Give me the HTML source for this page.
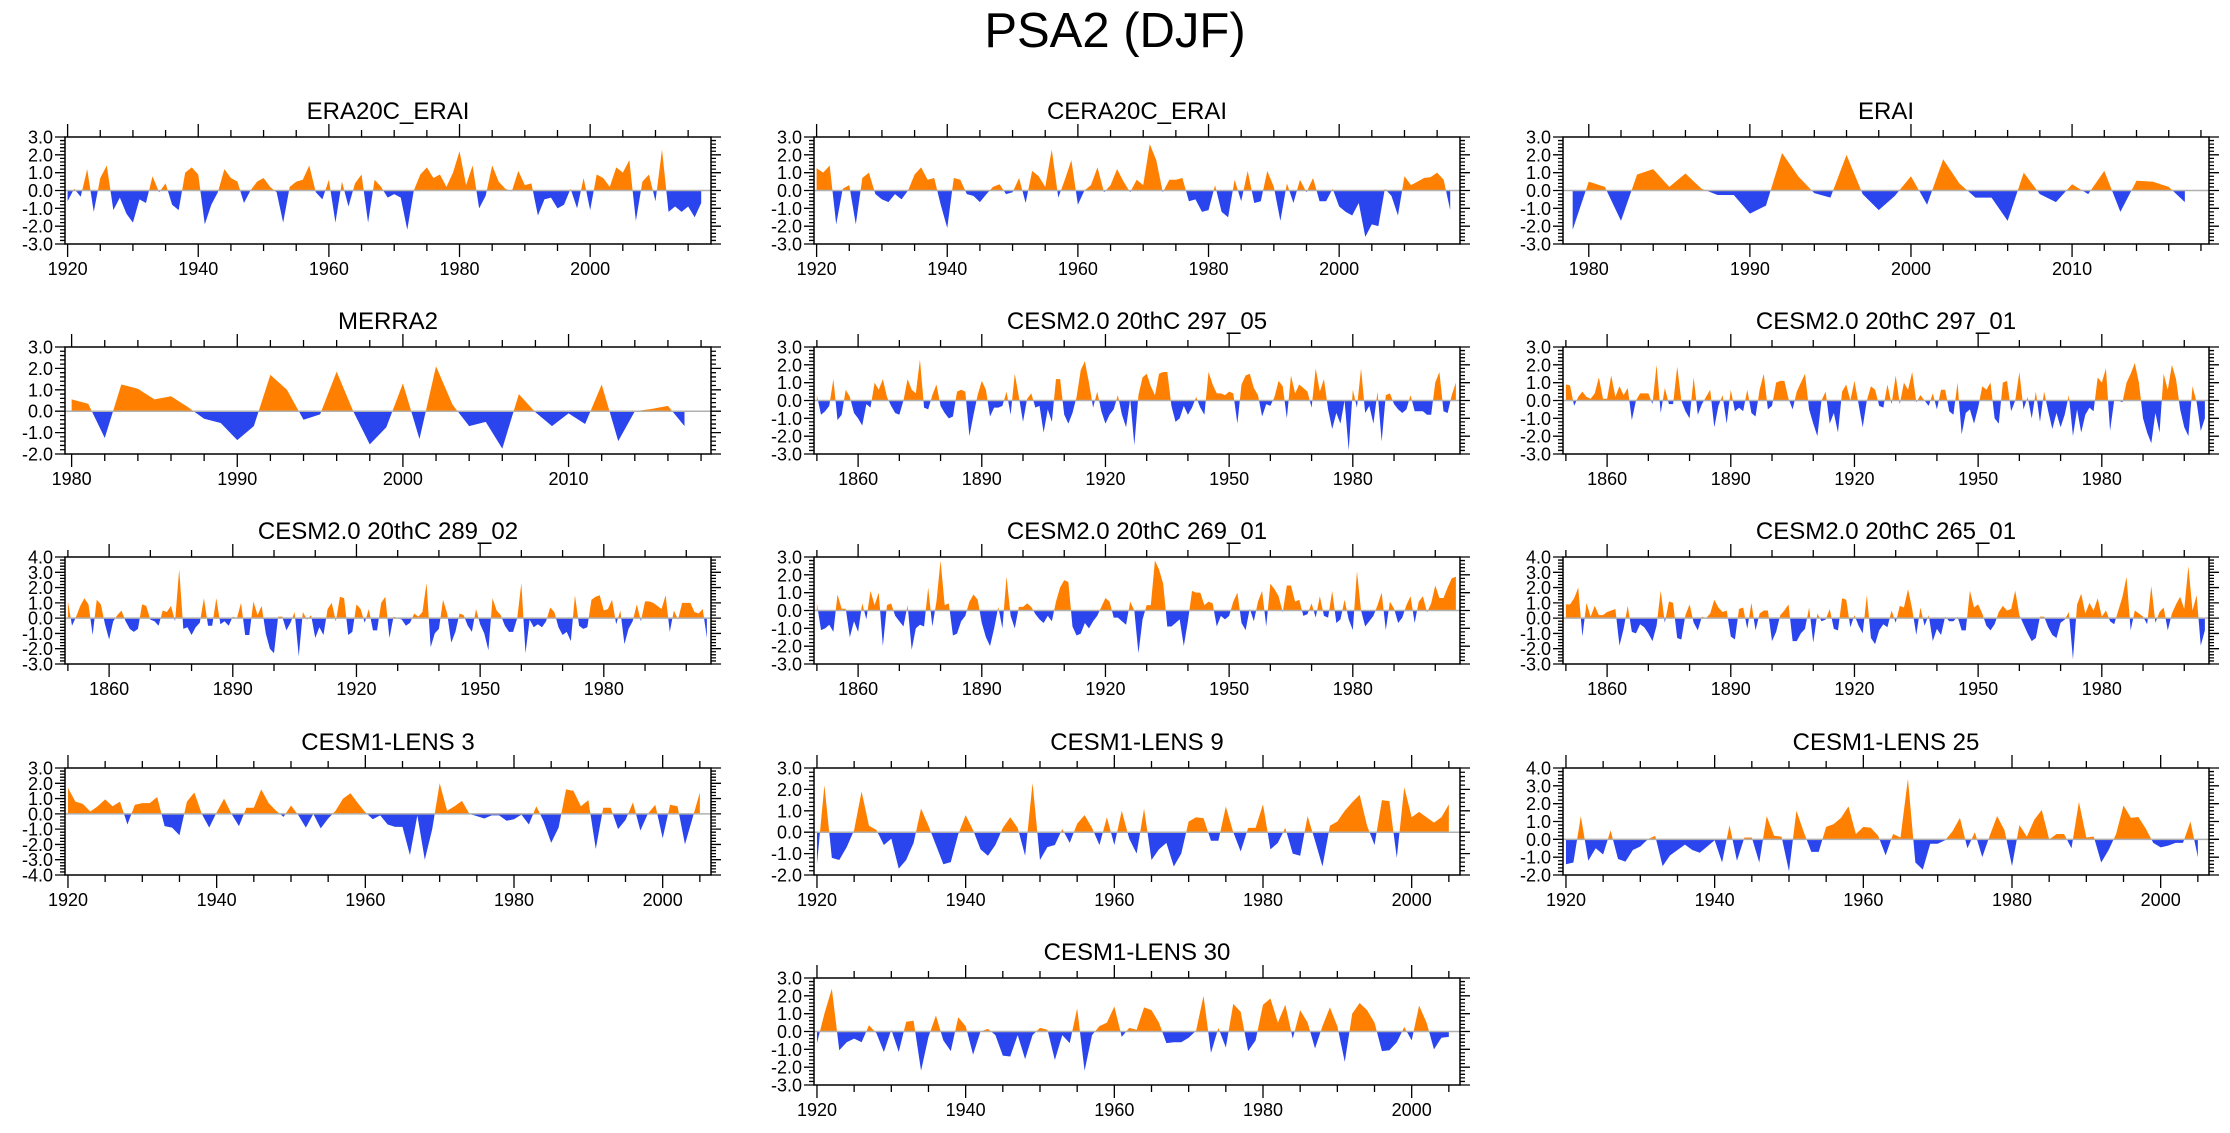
<!DOCTYPE html>
<html><head><meta charset="utf-8"><title>PSA2 (DJF)</title>
<style>
html,body{margin:0;padding:0;background:#fff;}
svg{display:block;font-family:"Liberation Sans",Arial,sans-serif;}
</style></head>
<body>
<svg id="fig" width="2230" height="1133" viewBox="0 0 2230 1133" xmlns="http://www.w3.org/2000/svg">
<rect x="0" y="0" width="2230" height="1133" fill="#fff"/>
<text x="1115" y="47" text-anchor="middle" font-size="49" fill="#000">PSA2 (DJF)</text>
</svg>
<script>
const era20c = [
-0.6,0.1,-0.35,1.2,-1.2,0.7,1.4,-1.1,-0.4,-1.3,
-1.8,-0.5,-0.7,0.8,-0.1,0.4,-0.8,-1.1,1.0,1.3,
0.9,-1.9,-0.8,-0.1,1.2,0.7,0.5,-0.7,0.0,0.5,
0.7,0.2,-0.1,-1.8,0.2,0.5,0.6,1.4,-0.1,-0.5,
0.6,-1.8,0.5,-0.9,0.4,0.9,-1.8,0.6,0.2,-0.4,
-0.2,-0.4,-2.2,0.0,0.9,1.3,0.7,0.9,0.2,1.0,
2.2,0.3,1.4,-1.0,-0.3,1.4,0.5,0.1,-0.05,1.1,
0.3,0.4,-1.4,-0.5,-0.4,-1.0,-0.8,0.1,-1.0,0.7,
-1.1,0.9,0.7,0.2,1.3,1.0,1.7,-1.7,0.5,0.9,
-0.6,2.3,-1.2,-0.9,-1.2,-0.9,-1.5,-0.7];
const cera20c = [
1.25,1.0,1.4,-1.9,0.1,0.3,-1.9,0.7,1.0,-0.2,
-0.5,-0.65,-0.2,-0.5,0.0,0.9,1.3,0.6,0.7,-0.8,
-2.1,0.7,0.6,-0.2,-0.3,-0.65,-0.2,0.2,0.35,-0.2,
-0.1,0.7,-0.7,1.1,0.8,0.2,2.3,-0.4,0.6,1.7,
-0.8,0.0,0.3,1.3,-0.1,0.3,1.2,0.5,-0.1,0.6,
0.3,2.6,1.7,-0.1,0.6,0.6,0.7,-0.6,-0.5,-1.2,
-1.1,0.3,-1.2,-1.5,0.6,-0.6,1.1,-0.7,-0.6,1.1,
0.2,-1.7,0.4,-0.7,0.6,-0.1,0.7,-0.6,-0.6,0.1,
-0.9,-1.2,-1.4,-0.7,-2.6,-1.9,-2.0,0.1,-0.3,-1.4,
0.8,0.3,0.5,0.7,0.75,1.0,0.6,-1.1];
const erai = [
-2.2,0.5,0.2,-1.7,0.9,1.2,0.2,0.95,0.1,-0.25,-0.25,
-1.3,-0.85,2.1,0.8,-0.15,-0.4,2.0,-0.2,-1.1,-0.3,
0.8,-0.8,1.75,0.4,-0.4,-0.4,-1.7,1.0,-0.2,-0.65,
0.35,-0.2,1.1,-1.2,0.55,0.5,0.2,-0.65];
const merra2 = [
0.55,0.35,-1.25,1.25,1.05,0.55,0.7,0.2,-0.35,-0.55,
-1.35,-0.7,1.7,1.0,-0.4,-0.15,1.85,0.0,-1.55,-0.75,
1.3,-1.3,2.1,0.3,-0.7,-0.5,-1.75,0.8,-0.05,-0.7,
-0.1,-0.6,1.25,-1.4,0.0,0.1,0.25,-0.7];
const c297_05 = [
0.3,-0.8,-0.6,-0.3,1.2,-1.1,-0.8,0.6,0.2,-0.7,
-1.0,-1.4,-0.2,-0.4,1.0,0.6,1.2,0.2,-0.3,-0.7,
-0.8,0.0,1.2,0.6,0.4,2.3,-0.4,-0.5,0.3,0.9,
-0.3,-0.7,-1.0,-0.9,0.5,0.6,0.5,-2.0,-0.8,0.3,
1.1,0.6,-0.9,-0.4,-0.4,-0.3,0.5,-0.8,1.5,0.2,
-1.2,0.1,0.4,-0.4,-0.3,-1.8,-0.5,-1.2,1.2,1.2,
-0.8,-1.3,-0.7,0.2,1.7,2.2,1.0,-0.4,0.5,-0.6,
-1.3,-0.8,-0.5,0.3,-0.8,-1.5,0.1,-2.5,0.3,1.3,
1.5,0.8,0.3,1.5,1.6,1.6,-0.3,-1.2,-1.0,-0.3,
-0.8,-0.4,0.2,-0.4,-0.8,1.6,0.9,0.4,0.4,0.3,
0.5,0.4,-1.3,0.9,1.4,1.5,0.7,0.3,-0.9,-0.2,
-0.3,0.2,1.1,0.8,-1.0,1.4,0.4,0.9,0.7,0.5,
-0.4,1.8,0.5,1.2,-0.5,-1.6,-0.7,-1.3,0.0,-2.8,
0.6,-0.4,1.8,-0.7,-0.3,-1.3,0.5,-2.3,0.3,0.4,
-0.2,-0.5,-0.7,-0.5,0.3,-0.6,-0.6,-0.6,-0.8,-0.8,
1.0,1.6,-0.6,-0.7,0.3,1.0];
const c297_01 = [
0.9,0.85,-0.3,0.2,0.5,0.2,0.1,0.4,1.3,0.1,
0.1,1.4,0.2,0.8,0.3,0.7,-1.1,0.0,0.4,0.4,
0.4,-0.2,2.0,-0.7,0.7,-0.2,-0.2,1.9,0.0,-0.6,
-1.0,1.3,-0.8,-0.2,0.2,0.6,-1.5,-0.3,0.3,-1.3,
0.6,-0.6,-0.4,-0.6,0.6,-0.7,-0.9,0.6,1.5,-0.5,
-0.3,1.0,1.1,1.1,0.1,-0.5,0.5,1.0,1.5,-0.5,
-1.3,-2.0,0.0,0.5,-1.3,-0.7,-1.8,0.5,0.9,0.0,
1.1,-0.2,-1.5,0.0,0.8,0.6,-0.3,-0.4,0.9,-0.2,
1.4,-0.2,1.0,0.6,1.6,-0.1,0.3,0.0,-0.3,0.4,
-0.5,0.6,0.6,-0.6,-0.8,1.0,-1.9,-0.7,-0.5,-1.3,
-0.4,0.8,0.6,1.0,-1.0,-1.3,1.0,1.1,-0.6,0.0,
1.6,-0.5,0.2,-1.0,0.5,-1.2,0.5,-0.6,-1.6,-0.7,
-1.5,-0.8,0.3,-2.0,-0.5,-1.8,-0.8,-0.4,-0.6,1.3,
1.0,1.8,-1.7,0.0,0.0,-0.1,1.0,1.5,2.1,1.0,
-1.0,-1.8,-2.4,-0.7,-1.8,1.5,0.6,2.0,1.2,-0.5,
-1.5,-2.0,0.8,-0.1,-1.7,-1.0];
const c289_02 = [
1.1,-0.5,0.1,0.8,1.3,0.9,-1.1,1.2,0.9,-0.4,
-1.4,-0.2,0.2,0.5,-0.2,-0.7,-0.9,-0.7,0.9,0.8,
-0.1,-0.2,-0.5,0.5,0.4,0.8,-0.2,3.2,-0.7,-0.6,
-1.1,-0.6,-0.3,1.3,-0.5,-0.5,1.3,-0.4,-0.2,-0.5,
0.1,0.0,1.0,-1.1,-1.1,1.1,0.2,0.8,-1.0,-2.0,
-2.3,0.1,0.1,-0.8,-0.3,0.4,-2.5,0.4,-0.1,0.2,
-1.3,-0.6,-1.1,0.6,1.0,-0.2,1.4,1.3,-1.1,-0.9,
0.9,0.6,-0.3,0.6,-0.8,-0.8,1.0,1.4,-1.3,0.1,
0.0,-0.1,-0.5,-0.3,0.3,0.1,0.4,2.3,-1.9,-1.0,
-0.7,1.2,0.3,-1.6,-0.9,0.3,0.2,-0.5,-0.9,0.6,
-0.4,-1.0,-2.1,1.3,0.5,0.2,-0.5,-0.9,-0.9,0.0,
2.3,-2.3,-0.1,-0.6,-0.4,-0.6,-0.2,0.7,0.4,-0.6,
-1.1,-0.9,-1.5,1.5,-0.5,-0.7,-0.6,1.2,1.4,1.5,
0.5,0.6,1.2,-0.4,0.5,-1.7,-0.7,-0.2,0.9,-0.2,
1.1,1.1,1.0,0.8,0.6,1.5,-0.9,0.5,-0.1,1.0,
1.0,1.0,0.4,0.3,0.6,-1.3];
const c269_01 = [
0.4,-1.1,-1.0,-0.8,-1.2,0.9,0.1,0.1,-1.5,-0.6,
-1.2,0.4,-0.5,1.1,0.3,1.0,-2.0,0.3,0.4,-0.3,
-0.6,-0.9,0.3,-2.2,-1.0,-0.8,-0.9,1.3,-0.9,0.5,
2.8,0.3,0.4,-1.4,-1.3,-0.6,-0.3,0.5,0.9,0.6,
-0.7,-1.5,-2.0,-1.0,0.2,-1.0,1.9,-0.3,-1.0,0.2,
0.2,0.4,0.2,-0.2,-0.5,-0.7,-0.3,-0.6,0.5,1.3,
1.7,1.6,-0.9,-1.4,-1.3,-0.7,-1.0,-0.6,-0.3,0.2,
0.7,0.5,-0.4,-0.4,-0.6,-0.8,0.5,0.0,-2.4,-0.5,
0.3,0.3,2.8,2.3,1.5,-0.9,-0.9,-0.7,-0.5,-2.0,
-0.6,1.1,1.0,1.0,0.3,0.5,0.4,-0.9,-0.3,-0.5,
-0.3,0.5,1.0,-0.7,-1.1,0.1,-0.6,0.5,1.1,-0.9,
1.5,1.2,0.8,-0.1,1.4,1.4,0.5,0.6,-0.3,-0.2,
0.4,-0.4,0.8,-0.3,-0.4,1.1,-0.7,-0.5,0.6,-0.5,
-1.1,2.2,0.0,-0.9,-0.6,-0.3,0.3,1.0,-1.1,0.5,
0.1,-0.7,-0.4,0.3,0.8,-0.7,0.5,0.8,-0.1,0.4,
1.4,0.7,0.7,1.3,1.8,1.9];
const c265_01 = [
0.9,0.9,1.3,2.0,-1.2,1.0,0.1,0.8,0.2,0.2,
0.4,0.5,0.6,-1.8,-0.7,0.8,-0.9,-1.0,-0.4,-0.6,
-1.0,-1.5,-0.5,1.8,-0.3,1.1,1.0,-1.3,-1.4,0.2,
0.9,-0.3,-0.8,0.1,0.0,0.3,1.2,0.7,0.4,0.5,
-1.2,-1.4,0.6,0.7,-0.7,1.0,-0.8,0.3,0.5,0.5,
-1.5,-0.9,0.2,0.5,0.9,-1.5,-1.5,-1.0,-0.7,0.7,
-1.6,0.3,-0.2,-0.1,0.6,-0.7,-0.8,1.3,1.2,-0.6,
0.2,-0.5,-1.0,1.5,-1.3,-1.7,-0.8,-0.4,-0.6,0.5,
-0.3,0.8,0.7,1.9,0.6,-1.1,0.7,-0.5,0.2,-1.5,
-0.7,-1.1,0.1,-0.2,-0.2,0.1,-0.8,-0.8,1.8,0.7,
0.9,0.3,-0.5,-0.8,-0.4,0.4,0.8,0.5,0.6,1.8,
0.2,-0.4,-1.0,-1.5,-1.3,0.1,0.1,-0.6,-1.1,-1.3,
-0.3,-0.1,0.4,-2.7,0.9,1.6,0.3,1.0,0.5,1.3,
0.1,0.5,-0.2,-0.4,0.5,1.4,2.7,-0.8,0.5,0.3,
0.1,-0.4,2.1,-0.3,0.4,0.7,-0.8,0.3,0.9,1.4,
0.6,3.4,0.5,1.5,-1.8,-0.8];
const lens3 = [
1.7,0.8,0.65,0.15,0.5,0.95,0.5,0.8,-0.7,0.6,
0.7,0.7,1.1,-0.8,-0.9,-1.4,0.8,1.4,0.0,-0.9,
0.1,1.0,0.0,-0.8,0.4,0.4,1.6,0.7,0.2,-0.2,
0.55,-0.1,-0.9,0.0,-0.95,-0.3,0.2,1.0,1.35,0.7,
0.1,-0.35,-0.1,-0.7,-0.85,-0.85,-2.7,-0.1,-3.0,-1.0,
2.0,0.2,0.5,0.85,0.0,-0.15,-0.3,-0.1,-0.1,-0.45,
-0.35,-0.05,-0.7,0.5,-0.5,-1.9,-0.9,1.6,1.5,0.5,
0.9,-2.3,0.4,0.4,-1.0,-0.4,0.75,-1.1,0.0,0.6,
-1.6,0.6,0.5,-2.0,-0.3,1.4];
const lens9 = [
-1.5,2.2,-1.2,-1.3,-0.7,0.1,1.9,0.3,0.1,-0.6,
-0.3,-1.7,-1.3,-0.5,1.1,0.3,-0.6,-1.5,-1.4,-0.1,
0.8,0.1,-0.8,-1.1,-0.6,0.2,0.7,0.2,-1.1,2.3,
-1.3,-0.7,-0.6,0.15,-0.5,0.4,0.8,0.2,-0.6,0.7,
-0.6,1.0,-0.3,-1.0,1.1,-1.3,-0.8,-0.5,-1.6,-1.0,
0.5,0.7,0.65,-0.4,-0.4,1.2,0.0,-0.9,0.2,0.2,
1.3,-0.8,-0.5,0.2,-1.0,-1.1,0.75,-0.4,-1.6,0.3,
0.5,1.0,1.4,1.75,0.3,-0.6,1.5,1.45,-1.2,2.1,
0.7,0.95,0.7,0.45,0.7,1.3];
const lens25 = [
-1.4,-1.3,1.3,-1.2,-0.5,-0.85,0.5,-1.1,-1.25,-0.6,
-0.4,0.0,0.2,-1.5,-0.9,-0.6,-0.3,-0.6,-0.75,-0.4,
-0.05,-1.3,0.8,-1.2,0.1,0.1,-1.3,1.3,0.2,0.15,
-1.8,1.6,0.4,-0.7,-0.7,0.7,0.85,1.2,1.85,0.3,
0.7,0.65,0.2,-0.9,0.3,0.1,3.4,-1.3,-1.7,-0.25,
-0.25,-0.05,0.45,1.2,-0.5,0.4,-1.0,0.2,1.3,0.5,
-1.5,0.8,0.15,1.1,1.65,0.0,0.3,0.3,-0.5,2.1,
0.1,0.15,-1.3,-0.6,0.3,1.9,1.2,1.25,0.6,-0.2,
-0.45,-0.35,-0.2,-0.2,1.0,-1.0];
const lens30 = [
-0.65,1.0,2.4,-1.05,-0.6,-0.4,-0.6,0.35,-0.1,-1.15,
0.1,-1.15,0.55,0.6,-2.2,-0.3,0.9,-0.5,-1.1,0.8,
0.3,-1.3,0.0,0.15,-0.2,-1.35,-1.4,-0.2,-1.55,-0.2,
0.2,0.1,-1.6,-0.2,-0.65,1.3,-2.2,-0.2,0.3,0.5,
1.4,-0.3,0.2,0.1,1.35,1.2,0.5,-0.65,-0.6,-0.6,
-0.35,0.05,2.0,-1.2,0.2,-0.9,1.55,1.1,-1.1,-0.5,
1.5,1.85,0.5,1.5,-0.4,1.2,0.5,-0.95,0.3,1.35,
0.3,-1.7,1.0,1.6,1.2,0.5,-1.1,-1.05,-0.6,0.25,
-0.5,1.45,0.5,-1.0,-0.35,-0.3];

const panelTitles = ["ERA20C_ERAI","CERA20C_ERAI","ERAI","MERRA2","CESM2.0 20thC 297_05","CESM2.0 20thC 297_01","CESM2.0 20thC 289_02","CESM2.0 20thC 269_01","CESM2.0 20thC 265_01","CESM1-LENS 3","CESM1-LENS 9","CESM1-LENS 25","CESM1-LENS 30"];
const panelSeries = [era20c,cera20c,erai,merra2,c297_05,c297_01,c289_02,c269_01,c265_01,lens3,lens9,lens25,lens30];
const startYears = [1920,1920,1979,1980,1850,1850,1850,1850,1850,1920,1920,1920,1920];
const yMins = [-3,-3,-3,-2,-3,-3,-3,-3,-3,-4,-2,-2,-3];
const yMaxs = [3,3,3,3,3,3,4,3,4,3,3,4,3];

// layout (not data)
const colX=[65,814,1563], rowY=[137,347,557,768,978], PW=646, PH=107;
const cells=[[0,0],[1,0],[2,0],[0,1],[1,1],[2,1],[0,2],[1,2],[2,2],[0,3],[1,3],[2,3],[1,4]];
const xRanges={1920:[1919.6,2018.5],1979:[1978.4,2018.5],1980:[1979.6,2018.6],1850:[1849.3,2006.0]};
const ORANGE="#ff8000", BLUE="#2b45ee";
const NS="http://www.w3.org/2000/svg";
const svg=document.getElementById('fig');
function mk(tag,attrs,parent){const e=document.createElementNS(NS,tag);for(const k in attrs)e.setAttribute(k,attrs[k]);(parent||svg).appendChild(e);return e;}

panelSeries.forEach((data,p)=>{
  const [c,r]=cells[p];
  const L=colX[c],T=rowY[r],R=L+PW,B=T+PH;
  const s0=startYears[p];
  let xr;
  if(p>=9) xr=[1919.6,2006.5]; else xr=xRanges[s0];
  const ymin=yMins[p],ymax=yMaxs[p];
  const sx=v=>L+(v-xr[0])/(xr[1]-xr[0])*PW;
  const sy=v=>B-(v-ymin)/(ymax-ymin)*PH;
  let major,minor;
  if(s0===1850){major=30;minor=10;}
  else if(s0>=1979){major=10;minor=2;}
  else {major=20;minor=5;}
  const g=mk('g',{});
  
  
  const t=mk('text',{x:(L+R)/2,y:T-18,'text-anchor':'middle','font-size':24,fill:'#000'},g);
  t.textContent=panelTitles[p];
  
  
  const idA='ca'+p, idB='cb'+p;
  const cpA=mk('clipPath',{id:idA},g); mk('rect',{x:L,y:T,width:PW,height:sy(0)-T},cpA);
  const cpB=mk('clipPath',{id:idB},g); mk('rect',{x:L,y:sy(0),width:PW,height:B-sy(0)},cpB);
  let d='M'+sx(s0).toFixed(2)+','+sy(0).toFixed(2);
  data.forEach((v,i)=>{d+=' L'+sx(s0+i).toFixed(2)+','+sy(v).toFixed(2);});
  d+=' L'+sx(s0+data.length-1).toFixed(2)+','+sy(0).toFixed(2)+' Z';
  const pos=mk('path',{d:d,fill:ORANGE,'clip-path':'url(#'+idA+')'},g);
  
  
  const neg=mk('path',{d:d,fill:BLUE,'clip-path':'url(#'+idB+')'},g);
  
  
  const zl=mk('line',{x1:L,x2:R,y1:sy(0),y2:sy(0),stroke:'#b0b0b0','stroke-width':1.5},g);
  
  
  const box=mk('rect',{x:L,y:T,width:PW,height:PH,fill:'none',stroke:'#000','stroke-width':1.5},g);
  
  
  let tk='';
  for(let yr=Math.ceil(xr[0]);yr<=xr[1];yr++){
    if(yr%minor!==0)continue;
    const x=sx(yr).toFixed(2);
    const isMaj=(s0===1850)?((yr-1860)%30===0):(yr%major===0);
    const len=isMaj?13:7;
    tk+='M'+x+','+T+' V'+(T-len)+' M'+x+','+B+' V'+(B+len)+' ';
    if(isMaj){
      const lb=mk('text',{x:x,y:B+31,'text-anchor':'middle','font-size':18,fill:'#000'},g);
      lb.textContent=yr;
      
      
    }
  }
  for(let k=Math.round(ymin*5);k<=Math.round(ymax*5);k++){
    const v=k/5, y=sy(v).toFixed(2);
    const isMaj=(k%5===0);
    const len=isMaj?10:5;
    tk+='M'+L+','+y+' H'+(L-len)+' M'+R+','+y+' H'+(R+len)+' ';
    if(isMaj){
      const lb=mk('text',{x:L-12,y:(+y+6.5),'text-anchor':'end','font-size':18,fill:'#000'},g);
      lb.textContent=v.toFixed(1);
      
      
    }
  }
  const tp=mk('path',{d:tk,stroke:'#000','stroke-width':1.3,fill:'none'},g);
  
  
});
</script>
</body></html>
